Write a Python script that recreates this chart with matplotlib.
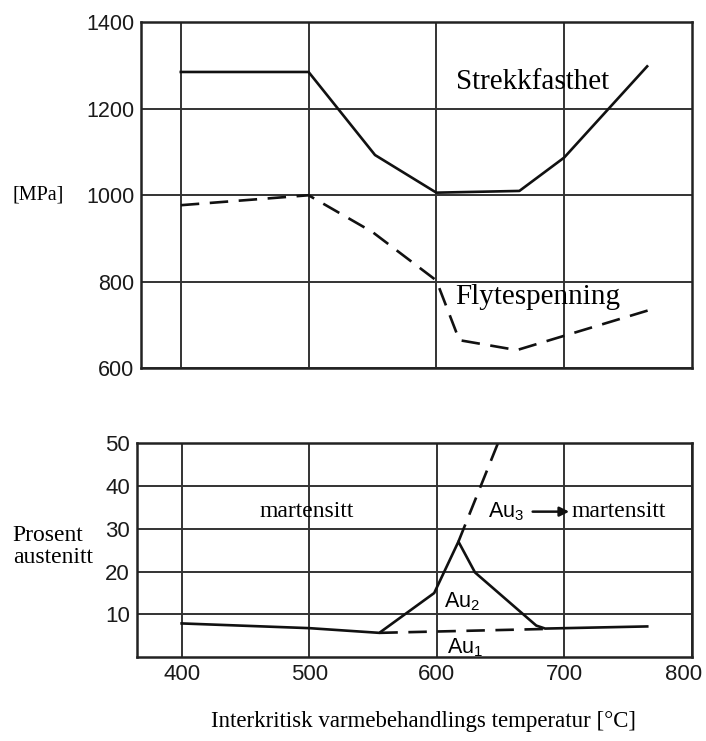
import matplotlib
matplotlib.use("Agg")
import matplotlib.pyplot as plt
from matplotlib.transforms import ScaledTranslation

# strength curves (top panel)
temp_uts = [400, 500, 552, 600, 665, 700, 765]
uts = [1285, 1285, 1093, 1006, 1010, 1087, 1298]
temp_ys = [400, 500, 550, 600, 618, 663, 766]
ys = [977, 1000, 915, 803, 665, 642, 734]

# austenite curves (bottom panel)
temp_au = [400, 500, 555, 598, 617, 630, 678, 685, 765]
au = [7.9, 6.8, 5.7, 15.0, 27.0, 19.8, 7.4, 6.7, 7.2]
temp_au1 = [555, 684]
au1 = [5.7, 6.6]
temp_au3 = [617, 648]
au3 = [27.0, 50.0]

x_ticks = [400, 500, 600, 700, 800]
top_yticks = [600, 800, 1000, 1200, 1400]
bot_yticks = [10, 20, 30, 40, 50]

plt.rcParams['mathtext.default'] = 'regular'
tick_font = ['Liberation Sans', 'DejaVu Sans']
serif = ['Liberation Serif', 'DejaVu Serif']

fig = plt.figure(figsize=(7.06, 7.41), dpi=100)
ax1 = fig.add_axes([0.200, 0.503, 0.780, 0.467])
ax2 = fig.add_axes([0.194, 0.113, 0.786, 0.289])

for ax in (ax1, ax2):
    for s in ax.spines.values():
        s.set_linewidth(1.8)
        s.set_color('#222222')
    ax.grid(True, color='#333333', linewidth=1.4)
    ax.set_axisbelow(True)
    ax.tick_params(length=0, pad=5, labelcolor='#1a1a1a')

# top panel
ax1.plot(temp_uts, uts, color='#111111', lw=1.9)
ax1.plot(temp_ys, ys, color='#111111', lw=1.9, dashes=(7, 4))
ax1.set_xlim(369, 800)
ax1.set_ylim(600, 1400)
ax1.set_xticks([400, 500, 600, 700])
ax1.set_xticklabels([])
ax1.set_yticks(top_yticks)
ax1.set_yticklabels([str(v) for v in top_yticks], family=tick_font, fontsize=15.5)
ax1.text(0.71, 0.827, 'Strekkfasthet', transform=ax1.transAxes, family=serif,
         fontsize=21, ha='center', va='center')
ax1.text(0.72, 0.205, 'Flytespenning', transform=ax1.transAxes, family=serif,
         fontsize=21, ha='center', va='center')
fig.text(0.017, 0.737, '[MPa]', family=serif, fontsize=14.5, va='center')

# bottom panel
ax2.plot(temp_au, au, color='#111111', lw=1.9)
ax2.plot(temp_au1, au1, color='#111111', lw=1.9, dashes=(7, 4))
ax2.plot(temp_au3, au3, color='#111111', lw=1.9, dashes=(7, 4))
ax2.set_xlim(365, 800)
ax2.set_ylim(0, 50)
ax2.set_xticks(x_ticks)
ax2.set_xticklabels([str(v) for v in x_ticks], family=tick_font, fontsize=16)
ax2.set_yticks(bot_yticks)
ax2.set_yticklabels([str(v) for v in bot_yticks], family=tick_font, fontsize=16)
last = ax2.get_xticklabels()[-1]
last.set_transform(last.get_transform() + ScaledTranslation(-6 / 72, 0, fig.dpi_scale_trans))

ax2.text(498, 34, 'martensitt', family=serif, fontsize=17, ha='center', va='center')
ax2.text(640, 34, 'Au$_3$', family=tick_font, fontsize=15.5, ha='left', va='center')
ax2.annotate('', xy=(706, 34), xytext=(673, 34),
             arrowprops=dict(arrowstyle='-|>', color='#111111', lw=1.8, mutation_scale=14))
ax2.text(706, 34, 'martensitt', family=serif, fontsize=17, ha='left', va='center')
ax2.text(620, 13, 'Au$_2$', family=tick_font, fontsize=15.5, ha='center', va='center')
ax2.text(622, 2.3, 'Au$_1$', family=tick_font, fontsize=15.5, ha='center', va='center')
fig.text(0.018, 0.262, 'Prosent\naustenitt', family=serif, fontsize=17,
         va='center', linespacing=1.05)
fig.text(0.60, 0.026, 'Interkritisk varmebehandlings temperatur [\u00b0C]', family=serif,
         fontsize=16.5, ha='center', va='center')

fig.savefig('out.png', dpi=100)
